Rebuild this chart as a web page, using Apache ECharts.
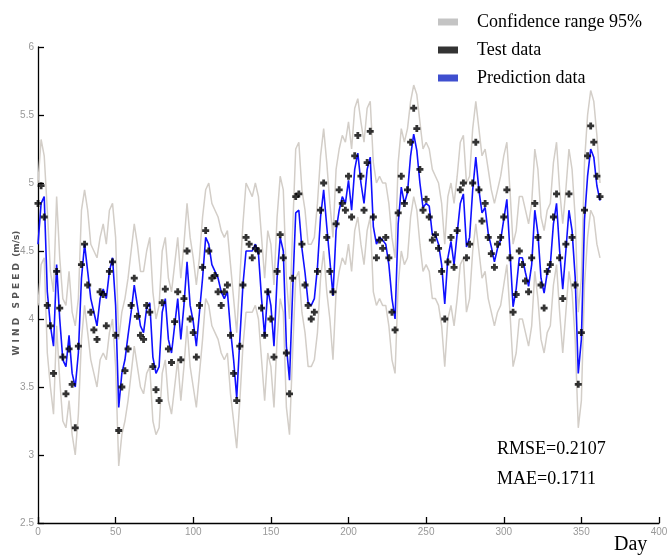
<!DOCTYPE html>
<html>
<head>
<meta charset="utf-8">
<script src="https://cdn.jsdelivr.net/npm/echarts@6/dist/echarts.min.js"></script>
<style>
  html, body { margin: 0; padding: 0; background: #fff; }
  #chart { width: 667px; height: 558px; }
</style>
</head>
<body>
<div id="chart"></div>
<script>
// sampled every 2 days, day 0 .. 362
const dayStep = 2;

const prediction = [
  4.55,4.85,4.9,4.2,3.95,3.8,4.4,4.0,3.7,3.65,
  3.88,3.6,3.5,3.75,4.3,4.55,4.35,4.15,4.05,3.95,
  4.15,4.22,4.15,4.35,4.45,4.1,3.35,3.6,3.7,3.88,
  4.05,4.25,4.1,3.95,3.9,4.08,4.12,3.72,3.6,3.65,
  4.05,4.15,3.85,3.75,3.95,4.15,3.85,4.1,4.42,4.1,
  3.98,3.8,4.05,4.3,4.6,4.55,4.4,4.35,4.3,4.2,
  4.15,4.2,3.92,3.7,3.42,3.85,4.25,4.5,4.5,4.5,
  4.55,4.48,4.15,3.87,4.22,4.1,3.8,4.3,4.6,4.5,
  3.8,3.55,4.2,4.78,4.8,4.52,4.34,4.12,4.1,4.15,
  4.38,4.75,4.95,4.68,4.43,4.17,4.65,4.8,4.9,4.85,
  5.02,4.8,5.1,5.22,5.0,4.85,5.1,5.19,4.68,4.55,
  4.6,4.58,4.55,4.4,4.15,4.0,4.7,4.97,4.85,4.93,
  5.2,5.36,5.24,5.0,4.82,4.85,4.83,4.62,4.62,4.55,
  4.4,4.11,4.45,4.57,4.4,4.63,4.85,4.92,4.53,4.6,
  4.95,5.19,4.95,4.78,4.82,4.63,4.53,4.42,4.52,4.58,
  4.73,4.88,4.5,4.09,4.22,4.45,4.45,4.34,4.24,4.4,
  4.8,4.63,4.3,4.19,4.34,4.4,4.7,4.85,4.5,4.22,
  4.5,4.8,4.65,4.31,3.6,3.85,4.73,5.05,5.25,5.19,
  4.98,4.87
];

const testData = [
  4.85,4.98,4.75,4.1,3.95,3.6,4.35,4.08,3.72,3.45,
  3.78,3.52,3.2,3.8,4.4,4.55,4.25,4.05,3.92,3.85,
  4.2,4.18,3.95,4.35,4.42,3.88,3.18,3.5,3.62,3.78,
  4.1,4.3,4.02,3.88,3.85,4.1,4.05,3.65,3.48,3.4,
  4.12,4.22,3.78,3.68,3.98,4.2,3.7,4.15,4.5,4.0,
  3.9,3.72,4.1,4.38,4.65,4.5,4.3,4.32,4.2,4.1,
  4.2,4.25,3.88,3.6,3.4,3.8,4.25,4.6,4.55,4.45,
  4.52,4.5,4.08,3.88,4.2,4.0,3.72,4.35,4.62,4.45,
  3.75,3.45,4.3,4.9,4.92,4.55,4.25,4.1,4.0,4.05,
  4.35,4.8,5.0,4.6,4.35,4.2,4.7,4.95,4.85,4.8,
  5.05,4.75,5.2,5.35,5.05,4.8,5.15,5.38,4.75,4.45,
  4.58,4.52,4.6,4.45,4.05,3.92,4.78,5.05,4.85,4.95,
  5.3,5.55,5.4,5.1,4.8,4.88,4.75,4.58,4.62,4.52,
  4.35,4.0,4.42,4.6,4.38,4.65,4.95,5.0,4.45,4.55,
  5.0,5.3,4.95,4.72,4.85,4.6,4.48,4.38,4.55,4.6,
  4.75,4.95,4.45,4.05,4.18,4.5,4.4,4.28,4.2,4.45,
  4.85,4.6,4.25,4.08,4.35,4.4,4.75,4.92,4.45,4.15,
  4.55,4.92,4.6,4.25,3.52,3.9,4.8,5.2,5.42,5.3,
  5.05,4.9
];

const upperBound = [
  5.0,5.32,5.2,4.8,4.35,4.2,4.9,4.45,4.15,4.1,
  4.35,4.05,3.95,4.15,4.8,4.95,4.8,4.55,4.5,4.45,
  4.6,4.7,4.55,4.8,4.85,4.6,3.85,4.05,4.15,4.3,
  4.5,4.7,4.55,4.35,4.35,4.5,4.6,4.2,4.0,4.1,
  4.5,4.6,4.3,4.2,4.4,4.6,4.3,4.55,4.85,4.6,
  4.45,4.25,4.45,4.75,4.95,5.0,4.85,4.8,4.75,4.65,
  4.6,4.65,4.4,4.15,3.9,4.3,4.7,5.0,4.95,4.9,
  5.0,4.9,4.6,4.3,4.65,4.55,4.25,4.75,5.05,4.95,
  4.3,4.0,4.65,5.25,5.3,4.95,4.8,4.55,4.55,4.6,
  4.85,5.2,5.4,5.15,4.85,4.6,5.1,5.25,5.35,5.3,
  5.45,5.25,5.55,5.62,5.45,5.3,5.55,5.6,5.15,5.0,
  5.05,5.0,5.0,4.85,4.6,4.45,5.15,5.4,5.3,5.4,
  5.6,5.72,5.65,5.45,5.25,5.3,5.25,5.1,5.05,5.0,
  4.85,4.55,4.9,5.0,4.85,5.05,5.3,5.35,5.0,5.05,
  5.4,5.6,5.4,5.2,5.25,5.1,4.95,4.85,4.95,5.05,
  5.2,5.3,4.95,4.55,4.65,4.9,4.9,4.8,4.7,4.85,
  5.25,5.1,4.75,4.65,4.8,4.85,5.15,5.3,4.95,4.7,
  4.95,5.25,5.1,4.75,4.05,4.3,5.15,5.5,5.68,5.6,
  5.35,5.0
];

const lowerBound = [
  4.1,4.4,4.45,3.75,3.5,3.3,3.95,3.55,3.25,3.2,
  3.4,3.15,3.0,3.3,3.85,4.1,3.9,3.7,3.6,3.5,
  3.7,3.75,3.7,3.9,4.0,3.65,2.92,3.15,3.25,3.4,
  3.6,3.8,3.65,3.5,3.45,3.6,3.65,3.25,3.15,3.2,
  3.6,3.7,3.4,3.3,3.5,3.7,3.4,3.65,3.95,3.65,
  3.5,3.35,3.6,3.85,4.15,4.1,3.95,3.9,3.85,3.75,
  3.7,3.75,3.45,3.25,3.05,3.4,3.8,4.05,4.05,4.05,
  4.1,4.0,3.7,3.4,3.75,3.65,3.35,3.85,4.15,4.05,
  3.35,3.15,3.75,4.3,4.35,4.05,3.9,3.65,3.65,3.7,
  3.9,4.3,4.5,4.2,4.0,3.7,4.2,4.35,4.45,4.4,
  4.55,4.35,4.65,4.75,4.55,4.4,4.65,4.75,4.2,4.1,
  4.15,4.1,4.1,3.95,3.7,3.6,4.25,4.5,4.4,4.45,
  4.75,4.9,4.8,4.55,4.35,4.4,4.35,4.15,4.15,4.1,
  3.95,3.65,4.0,4.1,3.95,4.15,4.4,4.45,4.05,4.15,
  4.5,4.7,4.5,4.3,4.35,4.15,4.05,3.95,4.05,4.1,
  4.25,4.4,4.05,3.65,3.75,4.0,4.0,3.9,3.8,3.95,
  4.35,4.15,3.85,3.75,3.9,3.95,4.25,4.4,4.05,3.75,
  4.05,4.35,4.2,3.85,3.2,3.4,4.25,4.6,4.8,4.75,
  4.55,4.45
];

const xTicks = [0, 50, 100, 150, 200, 250, 300, 350, 400];
const yTicks = [2.5, 3, 3.5, 4, 4.5, 5, 5.5, 6];
const stats = ['RMSE=0.2107', 'MAE=0.1711'];
const yTitle = 'W I N D   S P E E D  (m/s)';

function pairs(values) {
  return values.map((v, i) => [i * dayStep, v]);
}

const serif = 'Liberation Serif, Times New Roman, serif';
const narrow = 'Liberation Sans Narrow, Arial Narrow, sans-serif';
const plus = 'path://M3,0h4v3h3v4h-3v3h-4v-3h-3v-4h3z';

const chart = echarts.init(document.getElementById('chart'), null, { renderer: 'canvas' });

chart.setOption({
  animation: false,
  backgroundColor: '#fff',
  grid: { left: 38, right: 8, top: 47, bottom: 35, containLabel: false, outerBoundsMode: 'none' },
  legend: {
    orient: 'vertical',
    left: 433,
    top: 8,
    itemWidth: 20,
    itemHeight: 7,
    itemGap: 10,
    icon: 'rect',
    textStyle: { fontFamily: serif, fontSize: 18, color: '#000', padding: [0, 0, 0, 14] },
    data: [
      { name: 'Confidence range 95%', itemStyle: { color: '#c4c4c4' } },
      { name: 'Test data', itemStyle: { color: '#000' } },
      { name: 'Prediction data', itemStyle: { color: '#3f4fcf' } }
    ]
  },
  xAxis: {
    type: 'value',
    min: xTicks[0],
    max: xTicks[xTicks.length - 1],
    interval: 50,
    splitLine: { show: false },
    axisLine: { lineStyle: { color: '#000', width: 1.3 } },
    axisTick: { inside: true, length: 6, lineStyle: { color: '#000', width: 1.3 } },
    axisLabel: { color: '#999', fontFamily: narrow, fontSize: 10, margin: 4 }
  },
  yAxis: {
    type: 'value',
    min: yTicks[0],
    max: yTicks[yTicks.length - 1],
    interval: 0.5,
    splitLine: { show: false },
    axisLine: { lineStyle: { color: '#000', width: 1.3 } },
    axisTick: { inside: true, length: 6, lineStyle: { color: '#000', width: 1.3 } },
    axisLabel: { color: '#999', fontFamily: narrow, fontSize: 10, margin: 4 }
  },
  series: [
    {
      name: 'Confidence range 95%',
      type: 'line',
      data: pairs(upperBound),
      showSymbol: false,
      lineStyle: { color: '#d3cec8', width: 1.5 },
      itemStyle: { color: '#c4c4c4' },
      z: 1
    },
    {
      name: 'Confidence range 95%',
      type: 'line',
      data: pairs(lowerBound),
      showSymbol: false,
      lineStyle: { color: '#d3cec8', width: 1.5 },
      itemStyle: { color: '#c4c4c4' },
      z: 1
    },
    {
      name: 'Prediction data',
      type: 'line',
      data: pairs(prediction),
      showSymbol: false,
      lineStyle: { color: '#1010ff', width: 1.6 },
      itemStyle: { color: '#3f4fcf' },
      z: 2
    },
    {
      name: 'Test data',
      type: 'scatter',
      data: pairs(testData),
      symbol: plus,
      symbolSize: 7,
      itemStyle: { color: '#000' },
      z: 3
    }
  ],
  graphic: [
    {
      type: 'text', x: 17, y: 293, rotation: Math.PI / 2,
      style: { text: yTitle, font: 'bold 9px DejaVu Sans', fill: '#555', align: 'center', verticalAlign: 'middle' }
    },
    { type: 'text', left: 614, top: 535, style: { text: 'Day', font: '20px ' + serif, fill: '#000' } },
    { type: 'text', left: 497, top: 440, style: { text: stats[0], font: '18px ' + serif, fill: '#000' } },
    { type: 'text', left: 497, top: 470, style: { text: stats[1], font: '18px ' + serif, fill: '#000' } }
  ]
});
</script>
</body>
</html>
